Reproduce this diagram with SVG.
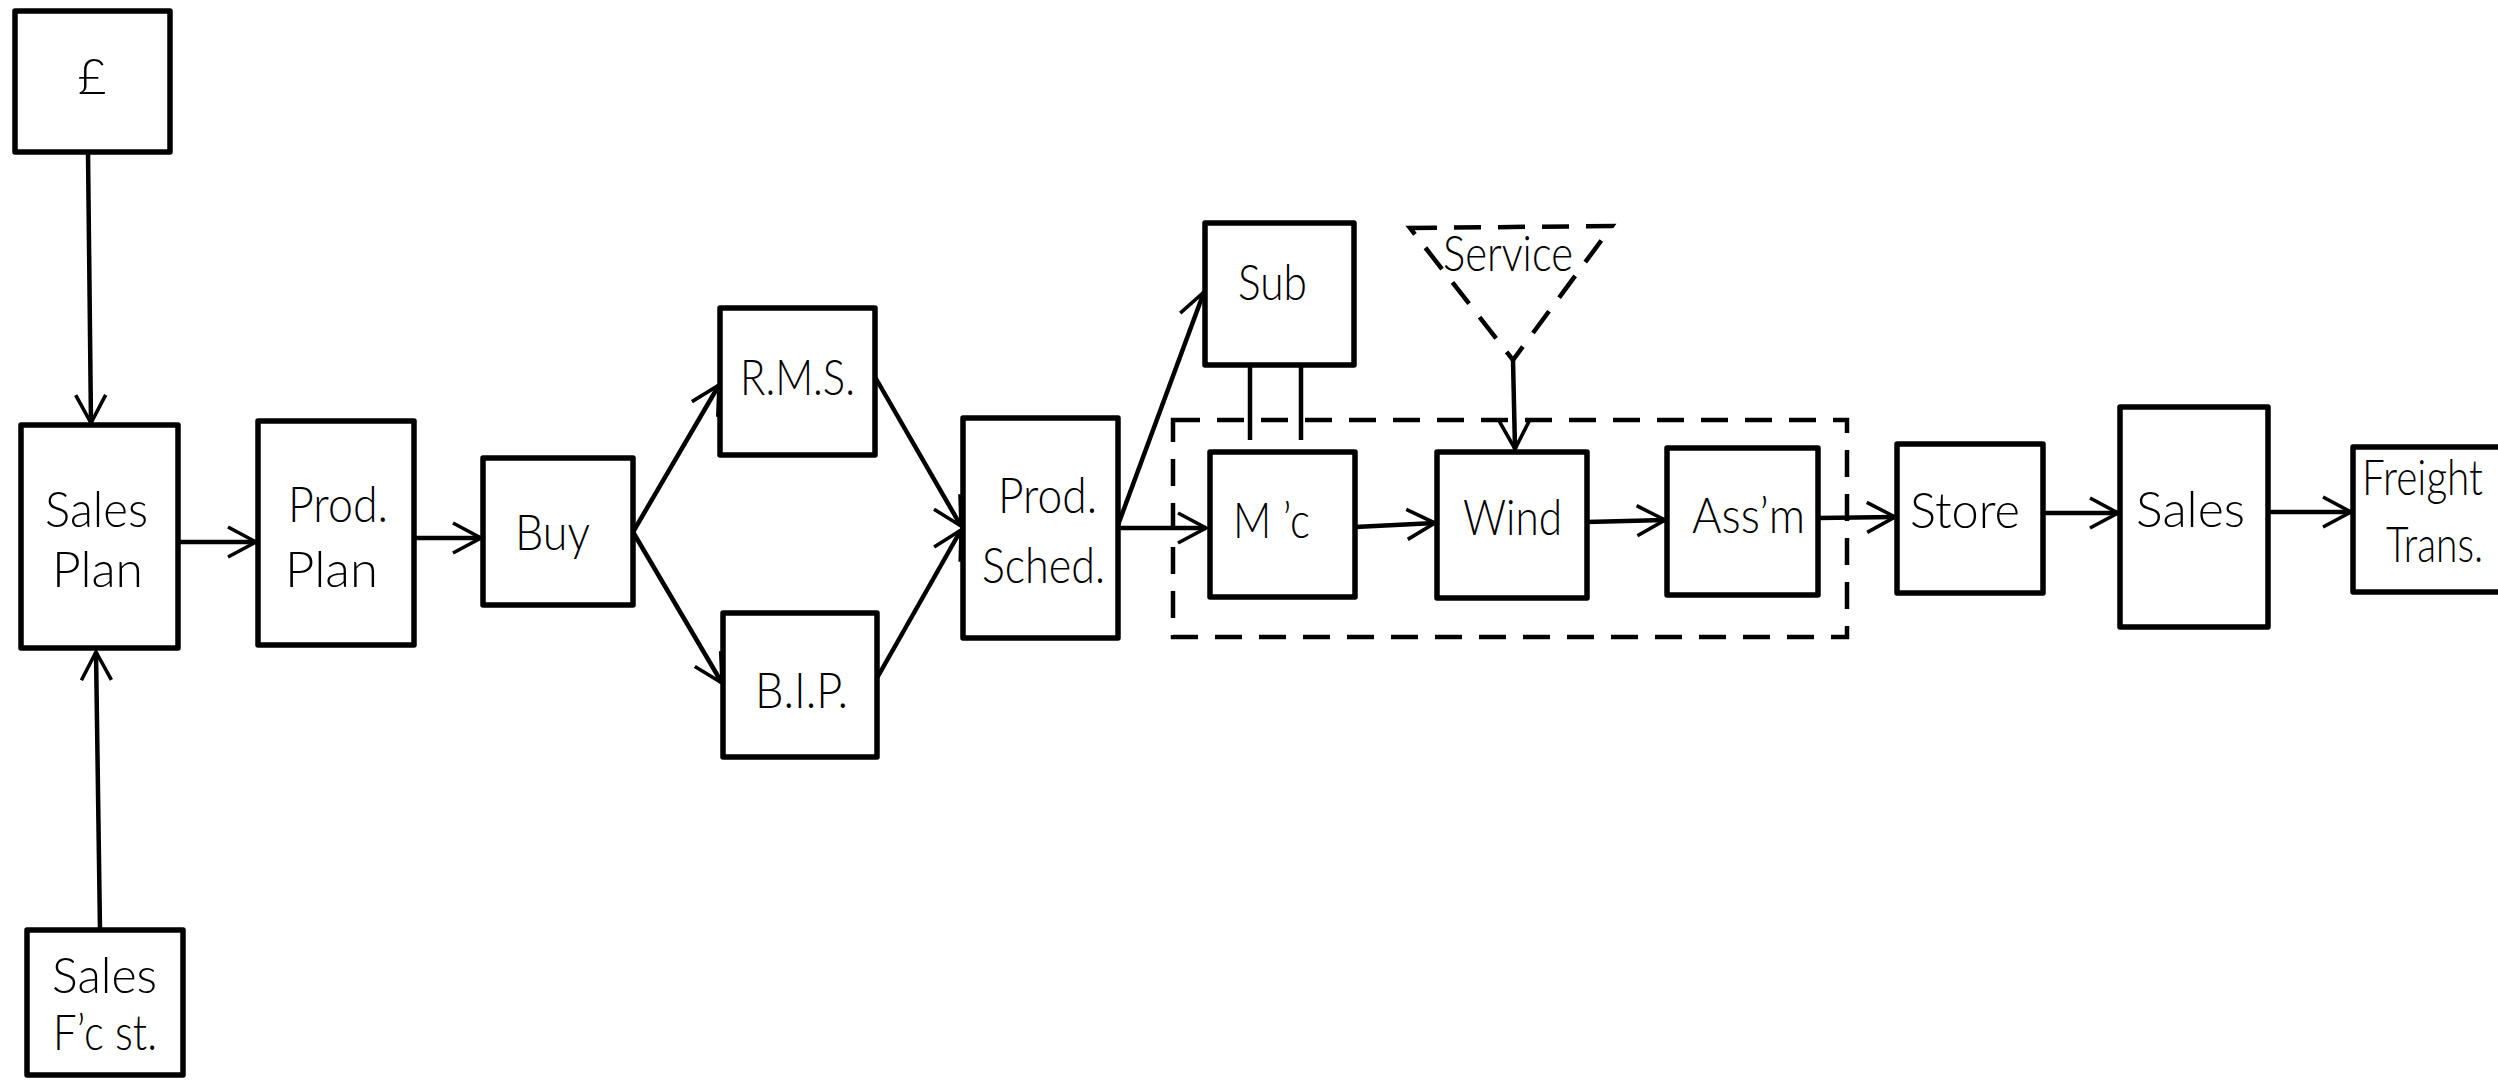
<svg xmlns="http://www.w3.org/2000/svg" width="2498" height="1080" viewBox="0 0 2498 1080">
  <style>
    .box { fill: #fff; stroke: #000; stroke-width: 5.5; stroke-linejoin: round; }
    .dash { fill: none; stroke: #000; stroke-width: 4.5; stroke-dasharray: 27 17; }
    .lbl { font-family: Lato, "Open Sans", "DejaVu Sans", sans-serif; font-weight: 300; font-size: 50px; fill: #000; }
    .conn path { fill: none; stroke: #000; stroke-width: 4.5; }
    .arr { marker-end: url(#head); }
  </style>
  <defs>
    <marker id="head" markerUnits="userSpaceOnUse" markerWidth="40" markerHeight="40" viewBox="-34 -20 40 40" refX="0" refY="0" orient="auto">
      <path d="M-28,-15 L0,0 L-28,15" fill="none" stroke="#000" stroke-width="3.6" stroke-linejoin="miter"/>
    </marker>
  </defs>
  <rect width="2498" height="1080" fill="#fff"/>

  <!-- connectors -->
  <g id="connectors" class="conn">
    <path class="arr" d="M88,152 L91,423"/>
    <path class="arr" d="M100,930 L96,652"/>
    <path class="arr" d="M178,542 L256,542"/>
    <path class="arr" d="M414,538 L481,538"/>
    <path class="arr" d="M633,532 L719,385"/>
    <path class="arr" d="M633,532 L722,683"/>
    <path class="arr" d="M875,377 L961,526"/>
    <path class="arr" d="M877,678 L961,530"/>
    <path class="arr" d="M1118,525 L1204,292"/>
    <path class="arr" d="M1118,528 L1206,528"/>
    <path d="M1250,365 L1250,440"/>
    <path d="M1301,365 L1301,440"/>
    <path class="arr" d="M1513,360 L1515,449"/>
    <path class="arr" d="M1355,527 L1435,523"/>
    <path class="arr" d="M1587,522 L1665,520"/>
    <path class="arr" d="M1818,518 L1895,517"/>
    <path class="arr" d="M2043,513 L2118,513"/>
    <path class="arr" d="M2268,512 L2351,512"/>
  </g>

  <!-- production group boundary -->
  <rect id="production-area" class="dash" x="1173" y="420" width="674" height="217"/>

  <g id="pound">
    <rect class="box" x="15" y="11" width="155" height="141"/>
    <text class="lbl" x="92" y="94" text-anchor="middle" font-size="66">£</text>
  </g>
  <g id="sales-plan">
    <rect class="box" x="21" y="425" width="157" height="223"/>
    <text class="lbl" x="45" y="527" textLength="103" lengthAdjust="spacingAndGlyphs">Sales</text>
    <text class="lbl" x="52" y="587" textLength="91" lengthAdjust="spacingAndGlyphs">Plan</text>
  </g>
  <g id="sales-forecast">
    <rect class="box" x="27" y="930" width="156" height="145"/>
    <text class="lbl" x="52" y="993" textLength="105" lengthAdjust="spacingAndGlyphs" font-size="45">Sales</text>
    <text class="lbl" x="53" y="1050" textLength="104" lengthAdjust="spacingAndGlyphs" font-size="45">F’c st.</text>
  </g>
  <g id="prod-plan">
    <rect class="box" x="258" y="421" width="156" height="224"/>
    <text class="lbl" x="288" y="522" textLength="100" lengthAdjust="spacingAndGlyphs">Prod.</text>
    <text class="lbl" x="285" y="587" textLength="93" lengthAdjust="spacingAndGlyphs">Plan</text>
  </g>
  <g id="buy">
    <rect class="box" x="483" y="458" width="150" height="147"/>
    <text class="lbl" x="515" y="550" textLength="75" lengthAdjust="spacingAndGlyphs">Buy</text>
  </g>
  <g id="rms">
    <rect class="box" x="720" y="308" width="155" height="147"/>
    <text class="lbl" x="740" y="395" textLength="115" lengthAdjust="spacingAndGlyphs">R.M.S.</text>
  </g>
  <g id="bip">
    <rect class="box" x="723" y="613" width="154" height="144"/>
    <text class="lbl" x="755" y="708" textLength="93" lengthAdjust="spacingAndGlyphs">B.I.P.</text>
  </g>
  <g id="prod-sched">
    <rect class="box" x="963" y="418" width="155" height="220"/>
    <text class="lbl" x="998" y="513" textLength="99" lengthAdjust="spacingAndGlyphs">Prod.</text>
    <text class="lbl" x="982" y="583" textLength="123" lengthAdjust="spacingAndGlyphs">Sched.</text>
  </g>
  <g id="sub">
    <rect class="box" x="1205" y="223" width="149" height="142"/>
    <text class="lbl" x="1238" y="300" textLength="69" lengthAdjust="spacingAndGlyphs">Sub</text>
  </g>
  <g id="service">
    <polygon class="dash" points="1410,228 1612,226 1513,360"/>
    <text class="lbl" x="1443" y="271" textLength="130" lengthAdjust="spacingAndGlyphs" font-size="46">Service</text>
  </g>
  <g id="machining">
    <rect class="box" x="1210" y="452" width="145" height="145"/>
    <text class="lbl" x="1233" y="538" textLength="77" lengthAdjust="spacingAndGlyphs">M ’c</text>
  </g>
  <g id="wind">
    <rect class="box" x="1437" y="452" width="150" height="146"/>
    <text class="lbl" x="1463" y="535" textLength="99" lengthAdjust="spacingAndGlyphs">Wind</text>
  </g>
  <g id="assembly">
    <rect class="box" x="1667" y="448" width="151" height="147"/>
    <text class="lbl" x="1692" y="533" textLength="113" lengthAdjust="spacingAndGlyphs">Ass’m</text>
  </g>
  <g id="store">
    <rect class="box" x="1897" y="444" width="146" height="149"/>
    <text class="lbl" x="1910" y="528" textLength="110" lengthAdjust="spacingAndGlyphs">Store</text>
  </g>
  <g id="sales">
    <rect class="box" x="2120" y="407" width="148" height="220"/>
    <text class="lbl" x="2136" y="527" textLength="109" lengthAdjust="spacingAndGlyphs">Sales</text>
  </g>
  <g id="freight">
    <!-- box runs on past the right-hand edge of the sheet -->
    <path class="box" d="M2498,447 H2353 V592 H2498"/>
    <text class="lbl" x="2362" y="495" textLength="121" lengthAdjust="spacingAndGlyphs" font-size="48">Freight</text>
    <text class="lbl" x="2386" y="562" textLength="97" lengthAdjust="spacingAndGlyphs" font-size="48">Trans.</text>
  </g>
</svg>
